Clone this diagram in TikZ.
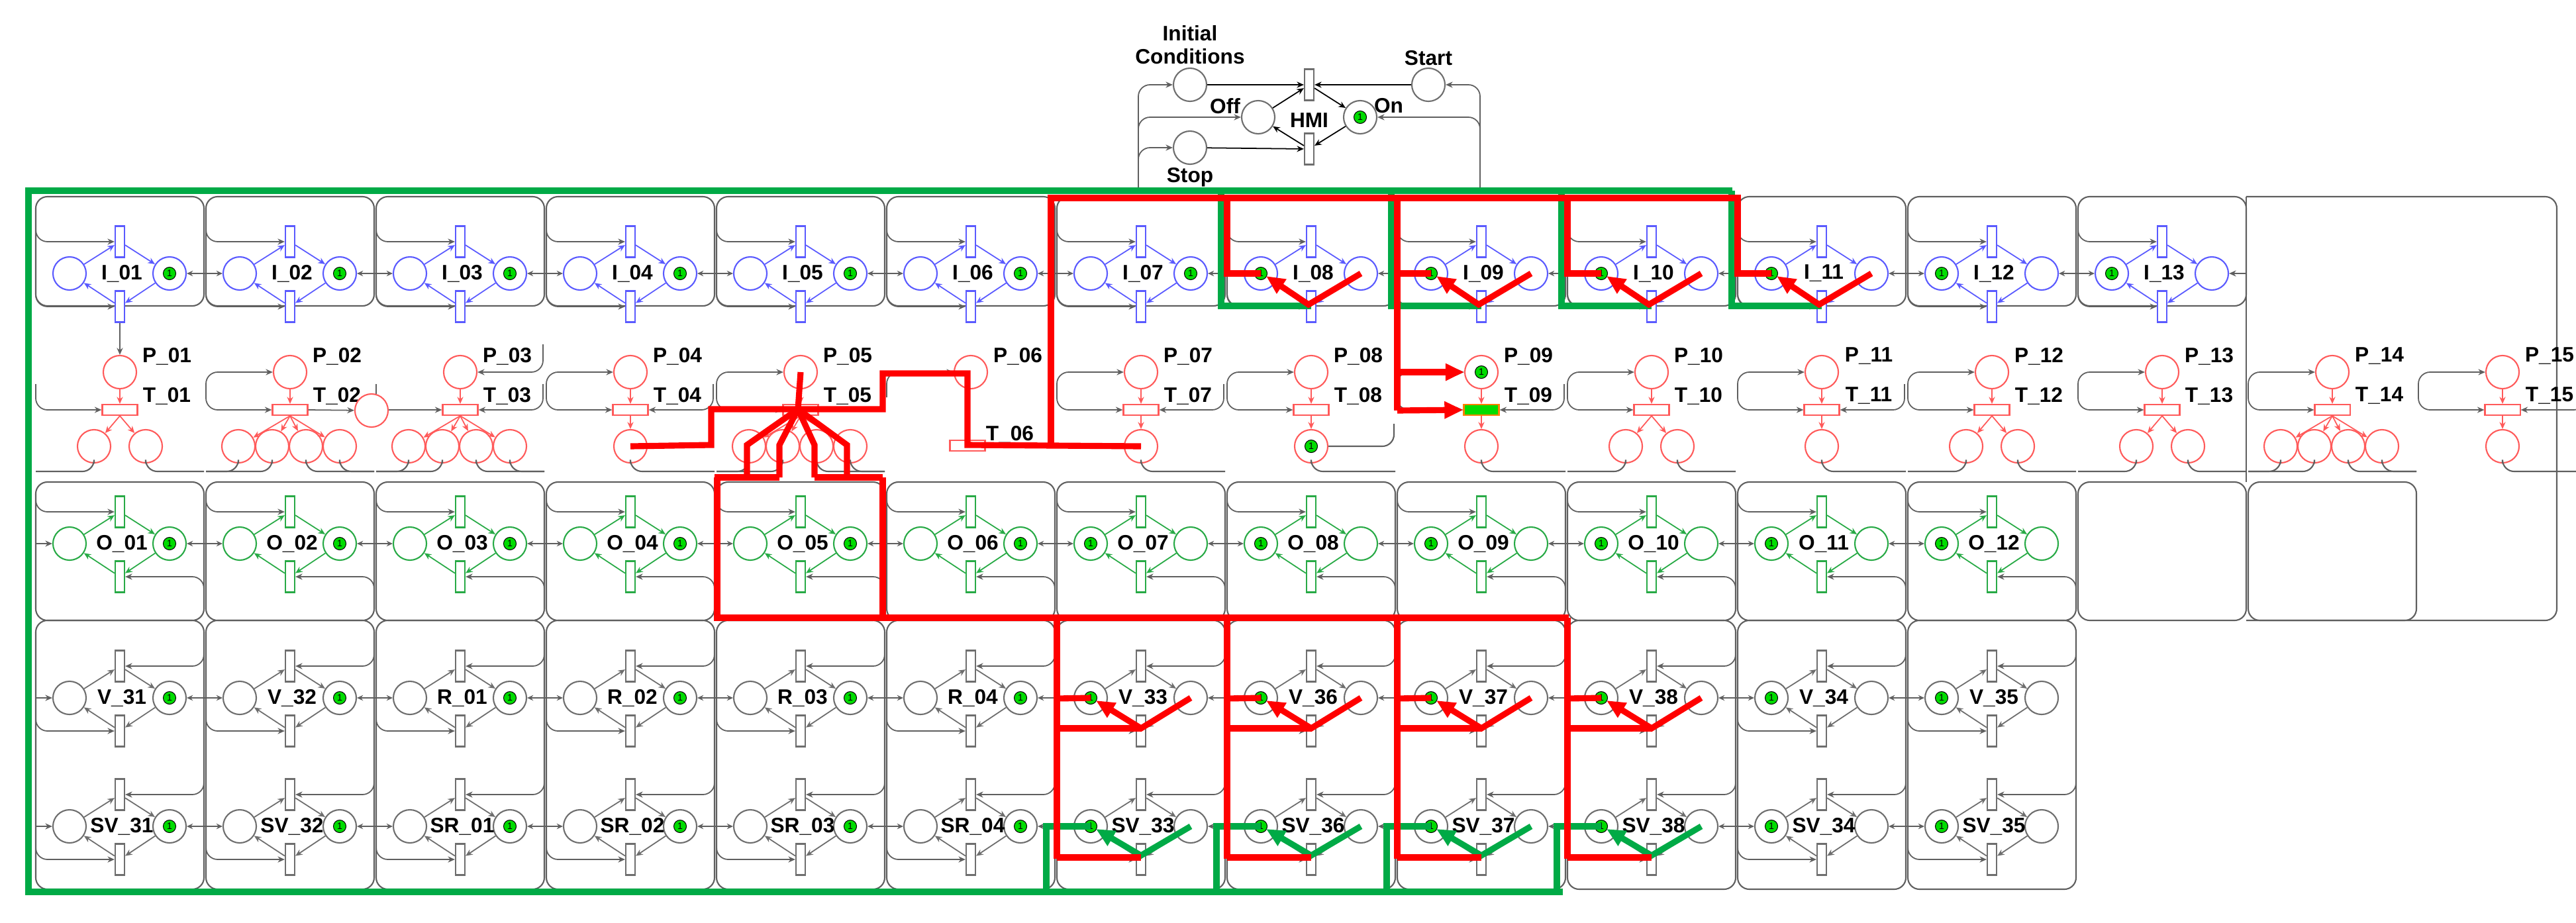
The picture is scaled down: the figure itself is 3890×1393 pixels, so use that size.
\documentclass[tikz,border=0pt]{standalone}
\usepackage{fontspec}
\setmainfont{Liberation Sans}
\usetikzlibrary{arrows.meta}
\definecolor{pblue}{RGB}{90,90,255}
\definecolor{pred}{RGB}{255,90,90}
\definecolor{pgreen}{RGB}{40,170,70}
\definecolor{pgray}{RGB}{110,110,110}
\definecolor{gline}{RGB}{95,95,95}
\definecolor{tokgreen}{RGB}{0,220,0}
\definecolor{hred}{RGB}{255,0,0}
\definecolor{hgreen}{RGB}{0,170,70}
\newcommand\pnmod[6]{%
 \node[pl=#4] (#1-L) at ({#2-76},#3) {};
 \node[pl=#4] (#1-R) at ({#2+75},#3) {};
 \node[tr=#4] (#1-T) at (#2,{#3-48}) {};
 \node[tr=#4] (#1-B) at (#2,{#3+50}) {};
 \draw[arr,#4] (#1-L) -- (#1-T);
 \draw[arr,#4] (#1-T) -- (#1-R);
 \draw[arr,#4] (#1-R) -- (#1-B);
 \draw[arr,#4] (#1-B) -- (#1-L);
 \node[tok] (#1-K) at ({#2+#5},#3) {1};
 \node[lab] (#1-N) at ({#2+3},#3) {#6};
}
\begin{document}
\begin{tikzpicture}[x=0.01cm,y=-0.01cm,
 pl/.style={circle,draw=#1,line width=0.6pt,minimum size=0.5cm,inner sep=0pt,fill=white},
 tr/.style={rectangle,draw=#1,line width=0.6pt,minimum width=0.14cm,minimum height=0.47cm,inner sep=0pt,fill=white},
 tb/.style={rectangle,draw=#1,line width=0.6pt,minimum width=0.53cm,minimum height=0.16cm,inner sep=0pt,fill=white},
 tok/.style={circle,draw=black,line width=0.3pt,fill=tokgreen,minimum size=0.19cm,inner sep=0pt,font=\fontsize{4}{4}\selectfont},
 lab/.style={font=\fontsize{9}{10}\selectfont\bfseries,inner sep=0pt},
 arr/.style={-{Stealth[length=3pt,width=2.6pt]},line width=0.5pt},
 darr/.style={{Stealth[length=2.6pt,width=2.4pt]}-{Stealth[length=2.6pt,width=2.4pt]},line width=0.4pt,gline},
 gc/.style={draw=gline,line width=0.6pt,rounded corners=5pt},
 hr/.style={draw=hred,line width=2.6pt},
 hg/.style={draw=hgreen,line width=2.6pt},
 htip/.style={-{Triangle[length=8pt,width=7pt]}},
]
\useasboundingbox (0,0) rectangle (3890,1393);

% ---------- gray cell frames ----------
\foreach \i in {1,...,13}{\pgfmathtruncatemacro\cx{181+257*(\i-1)}
  \draw[gc] ({\cx-127},297) rectangle ({\cx+127},462);}
\foreach \i in {1,...,14}{\pgfmathtruncatemacro\cx{181+257*(\i-1)}
  \draw[gc] ({\cx-127},728) rectangle ({\cx+127},937);}
\foreach \i in {1,...,12}{\pgfmathtruncatemacro\cx{181+257*(\i-1)}
  \draw[gc] ({\cx-127},937) rectangle ({\cx+127},1343);}
\draw[gc] (3392,297) -- (3861,297) -- (3861,937) -- (3392,937);
\draw[gc] (3392,297) -- (3392,728);

% ---------- HMI ----------
\node[pl=pgray] (IC) at (1797,128) {};
\node[pl=pgray] (OFF) at (1900,177) {};
\node[pl=pgray] (ON) at (2054,177) {};
\node[tok] at (ON) {1};
\node[pl=pgray] (ST) at (2157,128) {};
\node[pl=pgray] (SP) at (1797,223) {};
\node[tr=pgray] (HT) at (1977,128) {};
\node[tr=pgray] (HB) at (1977,225) {};
\draw[arr] (IC) -- (HT);
\draw[arr] (ST) -- (HT);
\draw[arr] (OFF) -- (HT);
\draw[arr] (HT) -- (ON);
\draw[arr] (ON) -- (HB);
\draw[arr] (SP) -- (HB);
\draw[arr] (HB) -- (OFF);
\draw[gc,arr] (1719,288) |- (IC.west);
\draw[gc,arr] (1719,200) |- (OFF.west);
\draw[gc,arr] (1719,260) |- (SP.west);
\draw[gc,arr] (2235,288) |- (ST.east);
\draw[gc,arr] (2235,200) |- (ON.east);
\node[lab,align=center] (ICt) at (1797,68) {Initial\\Conditions};
\node[lab] (OFFt) at (1850,160) {Off};
\node[lab] (HMIt) at (1977,182) {HMI};
\node[lab] (ONt) at (2097,160) {On};
\node[lab] (STt) at (2157,88) {Start};
\node[lab] (SPt) at (1797,268) {Stop};

% ---------- I row ----------
\foreach \i in {1,...,13}{\pgfmathtruncatemacro\cx{181+257*(\i-1)}
  \pgfmathtruncatemacro\tk{\i<8 ? 75 : -76}
  \pnmod{I\i}{\cx}{413}{pblue}{\tk}{I\_\ifnum\i<10 0\fi\i}
  \draw[gc,arr] ({\cx-127},320) |- (I\i-T.west);
  \draw[gc,arr] ({\cx-127},445) |- (I\i-B.west);}
\foreach \i [evaluate=\i as \j using int(\i+1)] in {1,...,12}{\draw[darr] (I\i-R) -- (I\j-L);}
\draw[gc,arr] (3392,413) -- (I13-R.east);

% ---------- O row ----------
\foreach \i in {1,...,12}{\pgfmathtruncatemacro\cx{181+257*(\i-1)}
  \pgfmathtruncatemacro\tk{\i<7 ? 75 : -76}
  \pnmod{O\i}{\cx}{821}{pgreen}{\tk}{O\_\ifnum\i<10 0\fi\i}
  \draw[gc,arr] ({\cx-127},745) |- (O\i-T.west);
  \draw[gc,arr] ({\cx+127},900) |- (O\i-B.east);}
\foreach \i [evaluate=\i as \j using int(\i+1)] in {1,...,11}{\draw[darr] (O\i-R) -- (O\j-L);}
\draw[gc,arr] (54,821) -- (O1-L.west);

% ---------- V and SV rows ----------
\foreach \lb [count=\i] in {V\_31,V\_32,R\_01,R\_02,R\_03,R\_04,V\_33,V\_36,V\_37,V\_38,V\_34,V\_35}{
  \pgfmathtruncatemacro\cx{181+257*(\i-1)}
  \pgfmathtruncatemacro\tk{\i<7 ? 75 : -76}
  \pnmod{V\i}{\cx}{1054}{pgray}{\tk}{\lb}
  \draw[gc,arr] ({\cx+127},960) |- (V\i-T.east);
  \draw[gc,arr] ({\cx-127},1060) |- (V\i-B.west);}
\foreach \lb [count=\i] in {SV\_31,SV\_32,SR\_01,SR\_02,SR\_03,SR\_04,SV\_33,SV\_36,SV\_37,SV\_38,SV\_34,SV\_35}{
  \pgfmathtruncatemacro\cx{181+257*(\i-1)}
  \pgfmathtruncatemacro\tk{\i<7 ? 75 : -76}
  \pnmod{S\i}{\cx}{1248}{pgray}{\tk}{\lb}
  \draw[gc,arr] ({\cx+127},1160) |- (S\i-T.east);
  \draw[gc,arr] ({\cx-127},1255) |- (S\i-B.west);}
\foreach \i [evaluate=\i as \j using int(\i+1)] in {1,...,11}{\draw[darr] (V\i-R) -- (V\j-L); \draw[darr] (S\i-R) -- (S\j-L);}
\draw[gc,arr] (54,1054) -- (V1-L.west);
\draw[gc,arr] (54,1248) -- (S1-L.west);

% ---------- P / T row ----------
\foreach \i/\n in {1/2,2/4,3/4,4/1,5/4,6/0,7/1,8/1,9/1,10/2,11/1,12/2,13/2,14/4,15/1}{
  \pgfmathtruncatemacro\cx{181+257*(\i-1)}
  \node[pl=pred] (P\i) at (\cx,562) {};
  \node[lab] (P\i-N) at ({\cx+71},538) {P\_\ifnum\i<10 0\fi\i};
  \ifnum\i=6
    \node[tb=pred] (T\i) at ({\cx-5},673) {};
    \node[lab] (T\i-N) at ({\cx+59},656) {T\_06};
  \else
    \node[tb=pred] (T\i) at (\cx,619) {};
    \node[lab] (T\i-N) at ({\cx+71},598) {T\_\ifnum\i<10 0\fi\i};
    \draw[arr,pred] (P\i) -- (T\i);
  \fi
  \ifnum\n=1 \def\offs{0}\fi
  \ifnum\n=2 \def\offs{-39,39}\fi
  \ifnum\n=4 \def\offs{-78,-27,24,75}\fi
  \ifnum\n>0
  \foreach \o [count=\k] in \offs {
    \node[pl=pred] (Q\i-\k) at ({\cx+\o},674) {};
    \draw[arr,pred] (T\i.south) -- (Q\i-\k);
    \ifnum\o<0 \draw[gc] (Q\i-\k.south) |- ({\cx-127},712);
    \else \draw[gc] (Q\i-\k.south) |- ({\cx+127},712); \fi}
  \fi
  \ifnum\i=1 \else\ifnum\i=3 \draw[gc,arr] ({\cx+125},520) |- (P\i.east);
     \else \draw[gc,arr] ({\cx-127},600) |- (P\i.west);\fi\fi
  \ifnum\i=6 \else \draw[gc,arr] ({\cx-127},580) |- (T\i.west);\fi
}
\draw[gc,arr] (I1-B.south) -- (P1);
\foreach \i in {3,4,7,9,11,15}{\pgfmathtruncatemacro\cx{181+257*(\i-1)}
  \draw[gc,arr] ({\cx+125},580) |- (T\i.east);}
\node[pl=pred] (X2) at (561,620) {};
\draw[gc,arr] (T2.east) -- (X2);
\node[tok] at (P9) {1};
\node[tok] at (Q8-1) {1};
\node[tb=pred,fill=tokgreen,draw=orange] at (T9) {};
\draw[gc] (Q8-1.east) -| (2105,640);

% ---------- highlight: green ----------
\draw[hg] (2616,288) -- (43,288) -- (43,1347) -- (2360,1347);
\foreach \i in {8,...,11}{\pgfmathtruncatemacro\cx{181+257*(\i-1)}
  \draw[hg] ({\cx-136},288) -- ({\cx-136},462) -- (\cx,462);}
\foreach \i in {7,...,10}{\pgfmathtruncatemacro\cx{181+257*(\i-1)}
  \draw[hg] ({\cx-143},1347) -- ({\cx-143},1248) -- (S\i-L.center);
  \draw[hg,htip] (S\i-R.center) -- (\cx,1292) -- ({\cx-68},1252);}

% ---------- highlight: red ----------
\draw[hr] (1587,672) -- (1587,299) -- (2624,299) -- (2624,413) -- (I11-L.center);
\foreach \i in {8,...,11}{\pgfmathtruncatemacro\cx{181+257*(\i-1)}
  \draw[hr] ({\cx-127},299) -- ({\cx-127},413) -- (I\i-L.center);
  \draw[hr,htip] (I\i-R.center) -- ({\cx-4},460) -- ({\cx-68},417);}
\draw[hr] (2110,413) -- (2110,620);
\draw[hr,htip] (2110,562) -- (P9.west);
\draw[hr,htip] (2110,620) -- (T9.west);
\draw[hr] (Q7-1.center) -- (1461,672) -- (1461,564) -- (1333,564) -- (1333,618) -- (1074,618) -- (1074,672) -- (Q4-1.center);
\draw[hr] (P5.center) -- (1205,618);
\draw[hr] (1205,618) -- (1128,672) -- (1128,721);
\draw[hr] (1205,618) -- (1177,672) -- (1177,721);
\draw[hr] (1205,618) -- (1230,672) -- (1230,721);
\draw[hr] (1205,618) -- (1279,672) -- (1279,721);
\draw[hr] (1079,721) -- (1177,721);
\draw[hr] (1230,721) -- (1333,721);
\draw[hr] (1083,721) -- (1083,933) -- (2369,933);
\draw[hr] (1333,721) -- (1333,933);
\foreach \i in {7,...,10}{\pgfmathtruncatemacro\cx{181+257*(\i-1)}
  \draw[hr] ({\cx-127},933) -- ({\cx-127},1297);
  \draw[hr] ({\cx-127},1100) -- (\cx,1100);
  \draw[hr] ({\cx-127},1295) -- (\cx,1295);
  \draw[hr] ({\cx-127},1055) -- (V\i-L.center);
  \draw[hr,htip] (V\i-R.center) -- (\cx,1100) -- ({\cx-68},1058);}
\end{tikzpicture}
\end{document}
